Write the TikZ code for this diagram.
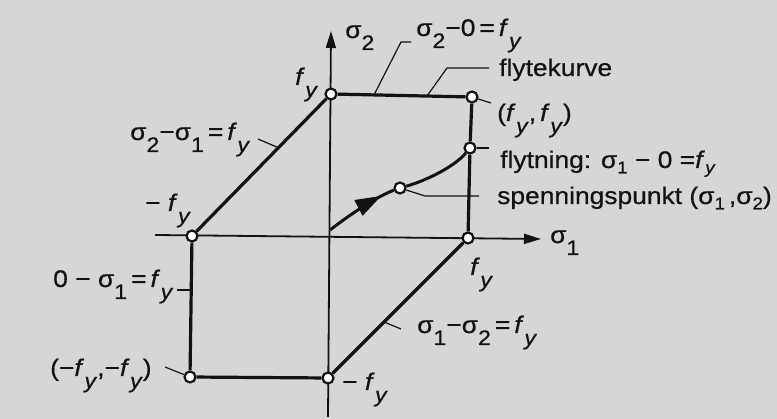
\documentclass[tikz,border=0pt]{standalone}
\usepackage{fontspec}
\setmainfont{Liberation Sans}[FakeStretch=1.1,FakeBold=0.6]
\usetikzlibrary{arrows.meta,decorations.markings}
\definecolor{bg}{RGB}{214,214,212}
\definecolor{ink}{RGB}{18,18,18}
\newcommand{\lowr}[1]{\raisebox{-0.5em}{\fontsize{21}{21}\selectfont #1}}
\newcommand{\lows}[1]{\raisebox{-0.22em}{\fontsize{17}{17}\selectfont #1}}
\newcommand{\fy}{\textit{f}\kern0.02em\lowr{\textit{y}}}
\newcommand{\fys}{\textit{f}\kern0.02em\lows{\textit{y}}}
\tikzset{
  lbl/.style={inner sep=0pt, anchor=base west, text=ink, font=\fontsize{24}{26}\selectfont},
  pt/.style={circle, draw=ink, fill=white, line width=2.2pt, inner sep=0pt, minimum size=11pt},
  yieldline/.style={draw=ink, line width=3.2pt},
  axis/.style={draw=ink, line width=1.8pt, -{Triangle[length=17pt,width=10pt]}},
  leader/.style={draw=ink, line width=1.2pt},
  curve/.style={draw=ink, line width=3pt}
}
\begin{document}
\begin{tikzpicture}[x=1pt,y=-1pt]
\fill[bg] (0,0) rectangle (777,419);
\useasboundingbox (0,0) rectangle (777,419);

% axes
\coordinate (ax2b) at (328,417);
\coordinate (ax2t) at (331,31);
\coordinate (ax1l) at (155,235);
\coordinate (ax1r) at (541,239);
\draw[axis] (ax2b) -- (ax2t);
\draw[axis] (ax1l) -- (ax1r);

% yield points
\node[pt] (A) at (331,94) {};
\node[pt] (B) at (472,97) {};
\node[pt] (F) at (470,148) {};
\node[pt] (C) at (468,238) {};
\node[pt] (E) at (328,378) {};
\node[pt] (G) at (190,377) {};
\node[pt] (H) at (192,236) {};
\node[pt] (S) at (400,188) {};

% yield curve
\draw[yieldline] (A) -- (B);
\draw[yieldline] (B) -- (F);
\draw[yieldline] (F) -- (C);
\draw[yieldline] (C) -- (E);
\draw[yieldline] (E) -- (G);
\draw[yieldline] (G) -- (H);
\draw[yieldline] (H) -- (A);

% stress path
\coordinate (O1) at (330,230);
\draw[curve, postaction={decorate}, decoration={markings, mark=at position 0.82 with {\arrow{Triangle[length=26pt,width=17pt]}}}]
  (O1) .. controls (352,213) and (378,196) .. (S);
\draw[curve] (S) .. controls (428,180) and (455,166) .. (F);

% leaders
\coordinate (l1a) at (374,95);
\coordinate (l1b) at (401,42);
\coordinate (l1c) at (411,42);
\draw[leader] (l1a) -- (l1b) -- (l1c);
\coordinate (l2a) at (427,96);
\coordinate (l2b) at (447,68);
\coordinate (l2c) at (489,68);
\draw[leader] (l2a) -- (l2b) -- (l2c);
\coordinate (l3) at (491,103);
\draw[leader] (B) -- (l3);
\coordinate (l4) at (489,148);
\draw[leader] (F) -- (l4);
\coordinate (l5a) at (425,196);
\coordinate (l5b) at (479,196);
\draw[leader] (S) -- (l5a) -- (l5b);
\coordinate (l6a) at (258,139);
\coordinate (l6b) at (279,148);
\draw[leader] (l6a) -- (l6b);
\coordinate (l7a) at (177,290);
\coordinate (l7b) at (191,290);
\draw[leader] (l7a) -- (l7b);
\coordinate (l8) at (165,367);
\draw[leader] (l8) -- (G);
\coordinate (l9a) at (384,322);
\coordinate (l9b) at (401,329);
\draw[leader] (l9a) -- (l9b);

% labels
\node[lbl] (t1) at (345,38) {σ\lowr{2}};
\node[lbl] (t2) at (416,36) {σ\lowr{2}−0\,=\,\fy};
\node[lbl] (t3) at (499,76) {flytekurve};
\node[lbl] (t4) at (497,121) {(\fy,\,\fy)};
\node[lbl] (t5) at (500,168) {flytning: σ\lows{1} − 0 =\fys};
\node[lbl] (t6) at (497,204) {spenningspunkt (σ\lows{1}\,,σ\lows{2})};
\node[lbl] (t7) at (550,243) {σ\lowr{1}};
\node[lbl] (t8) at (470,275) {\fy};
\node[lbl] (t9) at (417,333) {σ\lowr{1}−σ\lowr{2}\,=\,\fy};
\node[lbl] (t10) at (342,390) {− \fy};
\node[lbl] (t11) at (50,376) {(−\fy,−\fy)};
\node[lbl] (t12) at (53,287) {0 − σ\lowr{1}\,=\,\fy};
\node[lbl] (t13) at (145,211) {− \fy};
\node[lbl] (t14) at (130,140) {σ\lowr{2}−σ\lowr{1}\,=\,\fy};
\node[lbl] (t15) at (295,85) {\fy};
\end{tikzpicture}
\end{document}
